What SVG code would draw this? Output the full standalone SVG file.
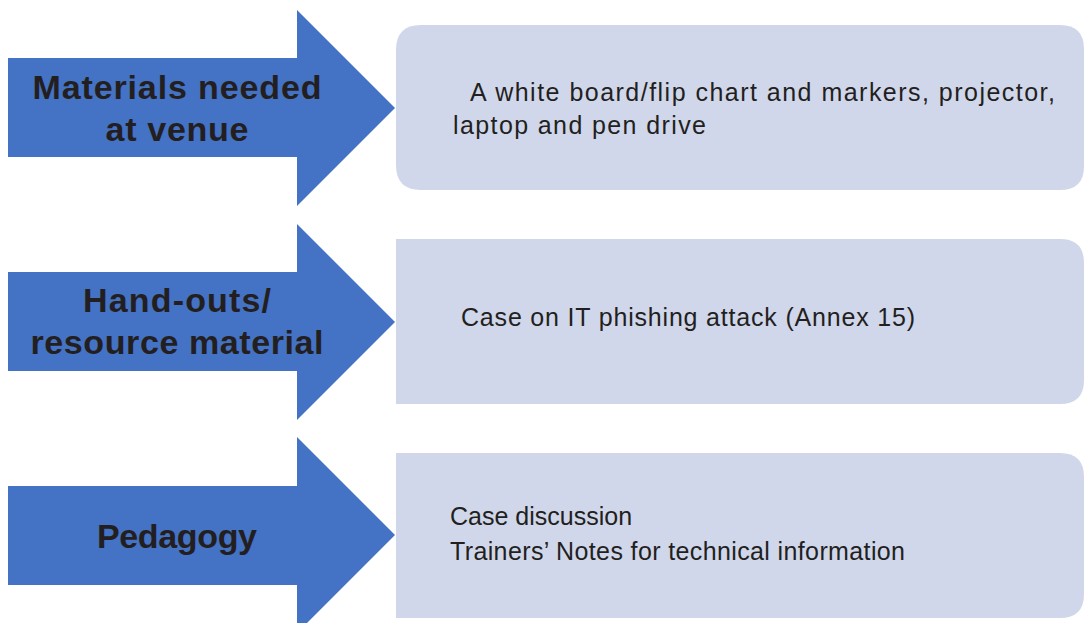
<svg xmlns="http://www.w3.org/2000/svg" width="1084" height="623" viewBox="0 0 1084 623">
<style>
.arrow{fill:#4472C4}
.box{fill:#D0D7EB}
.lbl{font-family:"Liberation Sans",Arial,sans-serif;font-weight:bold;font-size:34px;fill:#231F20;text-anchor:middle}
.txt{font-family:"Liberation Sans",Arial,sans-serif;font-size:25px;fill:#231F20}
</style>
<rect width="1084" height="623" fill="#FFFFFF"/>
<g id="connectors"></g>
<g id="arrow1">
<polygon class="arrow" points="8,58 297,58 297,10 395,108 297,206 297,157 8,157"/>
<text class="lbl" x="177" y="99" textLength="289" lengthAdjust="spacing">Materials needed</text>
<text class="lbl" x="177" y="141" textLength="143" lengthAdjust="spacing">at venue</text>
</g>
<g id="box1">
<path class="box" d="M421,25 H1060 Q1084,25 1084,49 V166 Q1084,190 1060,190 H421 Q396,190 396,165 V50 Q396,25 421,25 Z"/>
<text class="txt" x="470" y="101" textLength="585" lengthAdjust="spacing">A white board/flip chart and markers, projector,</text>
<text class="txt" x="453" y="134" textLength="253" lengthAdjust="spacing">laptop and pen drive</text>
</g>
<g id="arrow2">
<polygon class="arrow" points="8,272 297,272 297,224 395,322 297,420 297,371 8,371"/>
<text class="lbl" x="177" y="312" textLength="188" lengthAdjust="spacing">Hand-outs/</text>
<text class="lbl" x="177" y="354" textLength="293" lengthAdjust="spacing">resource material</text>
</g>
<g id="box2">
<path class="box" d="M396,239 H1060 Q1084,239 1084,263 V380 Q1084,404 1060,404 H396 Z"/>
<text class="txt" x="461" y="326" textLength="454" lengthAdjust="spacing">Case on IT phishing attack (Annex 15)</text>
</g>
<g id="arrow3">
<polygon class="arrow" points="8,486 297,486 297,437 395,535 297,633 297,585 8,585"/>
<text class="lbl" x="177" y="548" textLength="160" lengthAdjust="spacing">Pedagogy</text>
</g>
<g id="box3">
<path class="box" d="M396,453 H1060 Q1084,453 1084,477 V594 Q1084,618 1060,618 H396 Z"/>
<text class="txt" x="450" y="525">Case discussion</text>
<text class="txt" x="450" y="560" textLength="455" lengthAdjust="spacing">Trainers’ Notes for technical information</text>
</g>
</svg>
